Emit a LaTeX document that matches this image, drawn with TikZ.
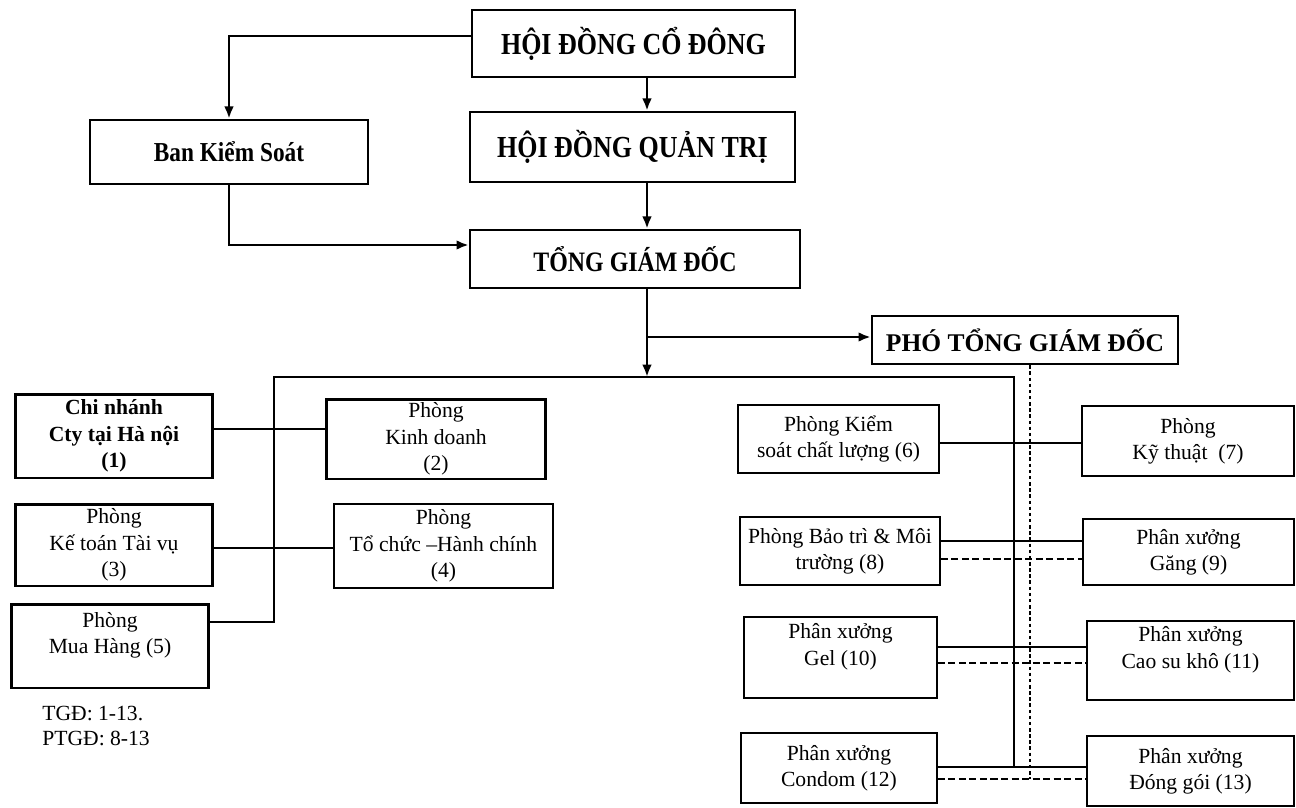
\documentclass[tikz,border=0pt]{standalone}
\usepackage{fontspec}
\setmainfont{Liberation Serif}
\newfontfamily\narrowserif[FakeStretch=0.85]{Liberation Serif}
\usepackage{tikz}
\usetikzlibrary{arrows.meta,calc,positioning}
\tikzset{
  headbox/.style={
    draw,
    line width=1.4pt,
    inner sep=0pt,
    font=\narrowserif\bfseries\fontsize{16.5}{20}\selectfont
  },
  unitbox/.style={
    draw,
    line width=0.9pt,
    align=center,
    inner sep=0pt,
    font=\fontsize{12.3}{15}\selectfont
  },
  thickbox/.style={
    unitbox,
    line width=1.7pt
  },
  link/.style={
    line width=1.6pt
  },
  arrow/.style={
    link,
    -{Latex[length=7pt,width=5.5pt]}
  },
  dashlink/.style={
    line width=0.8pt,
    dash pattern=on 4pt off 2pt
  },
  dotlink/.style={
    line width=0.9pt,
    dash pattern=on 2pt off 1.5pt
  }
}

\begin{document}
\begin{tikzpicture}[x=0.02cm,y=-0.02cm]
  \useasboundingbox (0,0) rectangle (1296,808);

  % Top levels
  \node[headbox, font=\narrowserif\bfseries\fontsize{17.4}{20}\selectfont, minimum width=6.46cm, minimum height=1.34cm] (hdcd) at (633.5,43.5) {HỘI ĐỒNG CỔ ĐÔNG};
  \node[headbox, font=\narrowserif\bfseries\fontsize{17.4}{20}\selectfont, minimum width=6.5cm, minimum height=1.4cm] (hdqt) at (632.5,147) {HỘI ĐỒNG QUẢN TRỊ};
  \node[headbox, font=\narrowserif\bfseries\fontsize{15.6}{20}\selectfont, minimum width=5.56cm, minimum height=1.28cm] (bks) at (229,152) {Ban Kiểm Soát};
  \node[headbox, font=\narrowserif\bfseries\fontsize{16}{20}\selectfont, minimum width=6.6cm, minimum height=1.16cm] (tgd) at (635,259) {TỔNG GIÁM ĐỐC};
  \node[headbox, font=\bfseries\fontsize{14.5}{17}\selectfont, minimum width=6.12cm, minimum height=0.96cm] (ptgd) at (1025,340) {PHÓ TỔNG GIÁM ĐỐC};

  % Bus points
  \coordinate (trunk) at (647,0);
  \coordinate (lbus) at (274,377);
  \coordinate (rbus) at (1014,377);
  \coordinate (dbus) at (1030,0);

  % Left departments
  \node[thickbox, font=\bfseries\fontsize{12.3}{15}\selectfont, minimum width=3.96cm, minimum height=1.68cm] (cn) at (114,436) {Chi nhánh\\Cty tại Hà nội\\(1)};
  \node[thickbox, minimum width=4.4cm, minimum height=1.6cm] (kd) at (436,439) {Phòng\\Kinh doanh\\(2)};
  \node[thickbox, minimum width=3.96cm, minimum height=1.64cm] (kt) at (114,545) {Phòng\\Kế toán Tài vụ\\(3)};
  \node[unitbox, minimum width=4.38cm, minimum height=1.68cm] (tc) at (443.5,546) {Phòng\\Tổ chức –Hành chính\\(4)};
  \node[thickbox, minimum width=3.96cm, minimum height=1.68cm] (mh) at (110,646) {Phòng\\Mua Hàng (5)\\~};

  % Right departments
  \node[unitbox, minimum width=4.02cm, minimum height=1.36cm] (b6) at (838.5,439) {Phòng Kiểm\\soát chất lượng (6)};
  \node[unitbox, minimum width=4.24cm, minimum height=1.4cm] (b7) at (1188,441) {Phòng\\Kỹ thuật~ (7)};
  \node[unitbox, minimum width=4.0cm, minimum height=1.36cm] (b8) at (840,551) {Phòng Bảo trì \& Môi\\trường (8)};
  \node[unitbox, minimum width=4.22cm, minimum height=1.32cm] (b9) at (1188.5,552) {Phân xưởng\\Găng (9)};
  \node[unitbox, minimum width=3.86cm, minimum height=1.62cm] (b10) at (840.5,657.5) {Phân xưởng\\Gel (10)\\~};
  \node[unitbox, minimum width=4.14cm, minimum height=1.58cm] (b11) at (1190.5,660.5) {Phân xưởng\\Cao su khô (11)\\~};
  \node[unitbox, minimum width=3.92cm, minimum height=1.4cm] (b12) at (839,768) {Phân xưởng\\Condom (12)};
  \node[unitbox, minimum width=4.14cm, minimum height=1.4cm] (b13) at (1190.5,771) {Phân xưởng\\Đóng gói (13)};

  % Note
  \node[anchor=north west, align=left, inner sep=0pt, font=\fontsize{12.3}{14}\selectfont] (note) at (42,706) {TGĐ: 1-13.\\PTGĐ: 8-13};

  % Top arrows
  \draw[arrow] (hdcd.west |- 0,36) -| (bks.north);
  \draw[arrow] (hdcd.south -| trunk) -- (hdqt.north -| trunk);
  \draw[arrow] (hdqt.south -| trunk) -- (tgd.north -| trunk);
  \draw[arrow] (bks.south) |- (tgd.west |- 0,245);
  \draw[arrow] (tgd.south -| trunk) -- (trunk |- lbus);
  \draw[arrow] (trunk |- 0,337) -- (ptgd.west |- 0,337);

  % Main bus
  \draw[link] (mh.east |- 0,622) -| (lbus) -- (rbus) -- (rbus |- 0,767);
  \draw[link] (cn.east |- 0,429) -- (kd.west |- 0,429);
  \draw[link] (kt.east |- 0,548) -- (tc.west |- 0,548);
  \draw[link] (b6.east |- 0,443) -- (b7.west |- 0,443);
  \draw[link] (b8.east |- 0,541) -- (b9.west |- 0,541);
  \draw[link] (b10.east |- 0,647) -- (b11.west |- 0,647);
  \draw[link] (b12.east |- 0,767) -- (b13.west |- 0,767);

  % Deputy lines
  \draw[dotlink] (ptgd.south -| dbus) -- (dbus |- 0,779);
  \draw[dashlink] (b8.east |- 0,559) -- (b9.west |- 0,559);
  \draw[dashlink] (b10.east |- 0,663) -- (b11.west |- 0,663);
  \draw[dashlink] (b12.east |- 0,779) -- (b13.west |- 0,779);
\end{tikzpicture}
\end{document}
